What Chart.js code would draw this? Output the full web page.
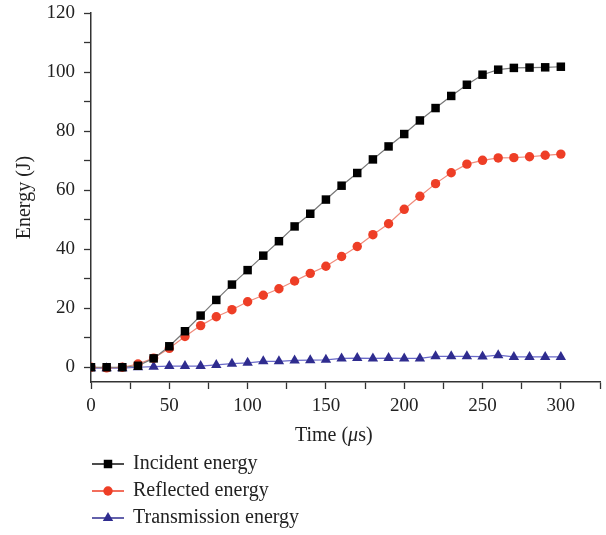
<!DOCTYPE html>
<html>
<head>
<meta charset="utf-8">
<script src="https://cdn.jsdelivr.net/npm/chart.js@4/dist/chart.umd.min.js"></script>
<style>
  html, body { margin: 0; padding: 0; background: #fff; }
  #wrap { width: 606px; height: 535px; }
</style>
</head>
<body>
<div id="wrap"><canvas id="c"></canvas></div>
<script>
// tiempos (µs)
const times = [0, 10, 20, 30, 40, 50, 60, 70, 80, 90, 100, 110, 120, 130, 140, 150,
  160, 170, 180, 190, 200, 210, 220, 230, 240, 250, 260, 270, 280, 290, 300];
const incident = [0, 0, 0, 0.5, 3, 7.1, 12.2, 17.5, 22.8, 28, 32.9, 37.8, 42.7, 47.7, 52.0, 56.8,
  61.5, 65.8, 70.4, 74.8, 79.0, 83.6, 87.8, 91.9, 95.7, 99.1, 100.8, 101.4, 101.5, 101.6, 101.8];
const reflected = [0, -0.2, 0, 1.1, 3.1, 6.4, 10.4, 14.1, 17.1, 19.5, 22.2, 24.4, 26.6, 29.2, 31.8, 34.2,
  37.5, 40.9, 44.9, 48.6, 53.5, 57.9, 62.2, 65.9, 68.8, 70.1, 70.9, 71.0, 71.3, 71.8, 72.2];
const transmission = [-0.3, -0.3, -0.3, 0, 0.2, 0.4, 0.4, 0.4, 0.8, 1.2, 1.5, 2.0, 2.0, 2.3, 2.4, 2.5,
  3.0, 3.1, 3.0, 3.1, 3.0, 3.0, 3.7, 3.7, 3.7, 3.6, 4.1, 3.5, 3.5, 3.5, 3.5];
const seriesNames = ['Incident energy', 'Reflected energy', 'Transmission energy'];

// marcas de los ejes (mayores con etiqueta, menores sin ella)
const xTicks = [0, 25, 50, 75, 100, 125, 150, 175, 200, 225, 250, 275, 300, 325];
const xLabels = [0, 50, 100, 150, 200, 250, 300];
const yTicks = [0, 10, 20, 30, 40, 50, 60, 70, 80, 90, 100, 110, 120];
const yLabels = [0, 20, 40, 60, 80, 100, 120];

const FONT = '"Liberation Serif", "Times New Roman", serif';
const toPts = arr => arr.map((v, i) => ({ x: times[i], y: v }));

// leyenda vertical + título del eje x (con µ en cursiva)
const sideLegend = {
  id: 'sideLegend',
  afterDraw(chart) {
    const ctx = chart.ctx;
    const xs = chart.scales.x;
    ctx.save();
    ctx.fillStyle = '#222';
    ctx.textBaseline = 'middle';
    // título eje x
    const cx = xs.getPixelForValue(155);
    const parts = [['Time (', '20px ' + FONT], ['\u03bc', 'italic 20px ' + FONT], ['s)', '20px ' + FONT]];
    let total = 0;
    parts.forEach(p => { ctx.font = p[1]; total += ctx.measureText(p[0]).width; });
    let x = cx - total / 2;
    ctx.textAlign = 'left';
    parts.forEach(p => { ctx.font = p[1]; ctx.fillText(p[0], x, 436); x += ctx.measureText(p[0]).width; });

    const rows = [464, 491, 518];
    chart.data.datasets.forEach((ds, i) => {
      const y = rows[i];
      ctx.strokeStyle = ds.legendLine;
      ctx.lineWidth = 1.5;
      ctx.beginPath();
      ctx.moveTo(92, y);
      ctx.lineTo(124, y);
      ctx.stroke();
      ctx.fillStyle = ds.pointBackgroundColor;
      ctx.strokeStyle = ds.pointBackgroundColor;
      Chart.helpers.drawPoint(ctx, { pointStyle: ds.pointStyle, radius: ds.pointRadius, rotation: 0, borderWidth: 0 }, 108, y);
      ctx.fillStyle = '#222';
      ctx.font = '20px ' + FONT;
      ctx.fillText(ds.label, 133, y);
    });
    ctx.restore();
  }
};

new Chart(document.getElementById('c'), {
  type: 'line',
  data: {
    datasets: [
      { label: seriesNames[0], data: toPts(incident), borderColor: '#777', borderWidth: 1.2,
        pointStyle: 'rect', pointRadius: 6, pointBackgroundColor: '#000', pointBorderWidth: 0, legendLine: '#111' },
      { label: seriesNames[1], data: toPts(reflected), borderColor: '#f08a7a', borderWidth: 1.2,
        pointStyle: 'circle', pointRadius: 4.7, pointBackgroundColor: '#ee3e26', pointBorderWidth: 0, legendLine: '#ee3e26' },
      { label: seriesNames[2], data: toPts(transmission), borderColor: '#6a6ac8', borderWidth: 1.2,
        pointStyle: 'triangle', pointRadius: 6, pointBackgroundColor: '#2f2c8f', pointBorderWidth: 0, legendLine: '#2f2c8f' }
    ]
  },
  options: {
    responsive: true,
    maintainAspectRatio: false,
    animation: false,
    layout: { padding: { top: 13, right: 4, left: 0, bottom: 0 } },
    plugins: { legend: { display: false }, tooltip: { enabled: false } },
    scales: {
      x: {
        type: 'linear', min: 0, max: 325,
        afterBuildTicks: s => { s.ticks = xTicks.map(v => ({ value: v })); },
        afterFit: s => { s.height = 153; s.paddingLeft = 0; s.paddingRight = 0; },
        grid: { drawOnChartArea: false, tickLength: 7, tickColor: '#333', tickWidth: 1.3 },
        border: { color: '#333', width: 1.5 },
        ticks: {
          padding: 6, color: '#222', font: { family: FONT, size: 19 },
          maxRotation: 0, autoSkip: false,
          callback: v => xLabels.includes(v) ? String(v) : ''
        }
      },
      y: {
        min: -5, max: 120,
        afterBuildTicks: s => { s.ticks = yTicks.map(v => ({ value: v })); },
        afterFit: s => { s.width = 91; s.paddingTop = 0; s.paddingBottom = 0; },
        grid: { drawOnChartArea: false, tickLength: 7, tickColor: '#333', tickWidth: 1.3 },
        border: { color: '#333', width: 1.5 },
        title: { display: true, text: 'Energy (J)', color: '#222', font: { family: FONT, size: 20 }, padding: { top: 13, bottom: 0 } },
        ticks: {
          padding: 9, color: '#222', font: { family: FONT, size: 19 }, autoSkip: false,
          callback: v => yLabels.includes(v) ? String(v) : ''
        }
      }
    }
  },
  plugins: [sideLegend]
});
</script>
</body>
</html>
